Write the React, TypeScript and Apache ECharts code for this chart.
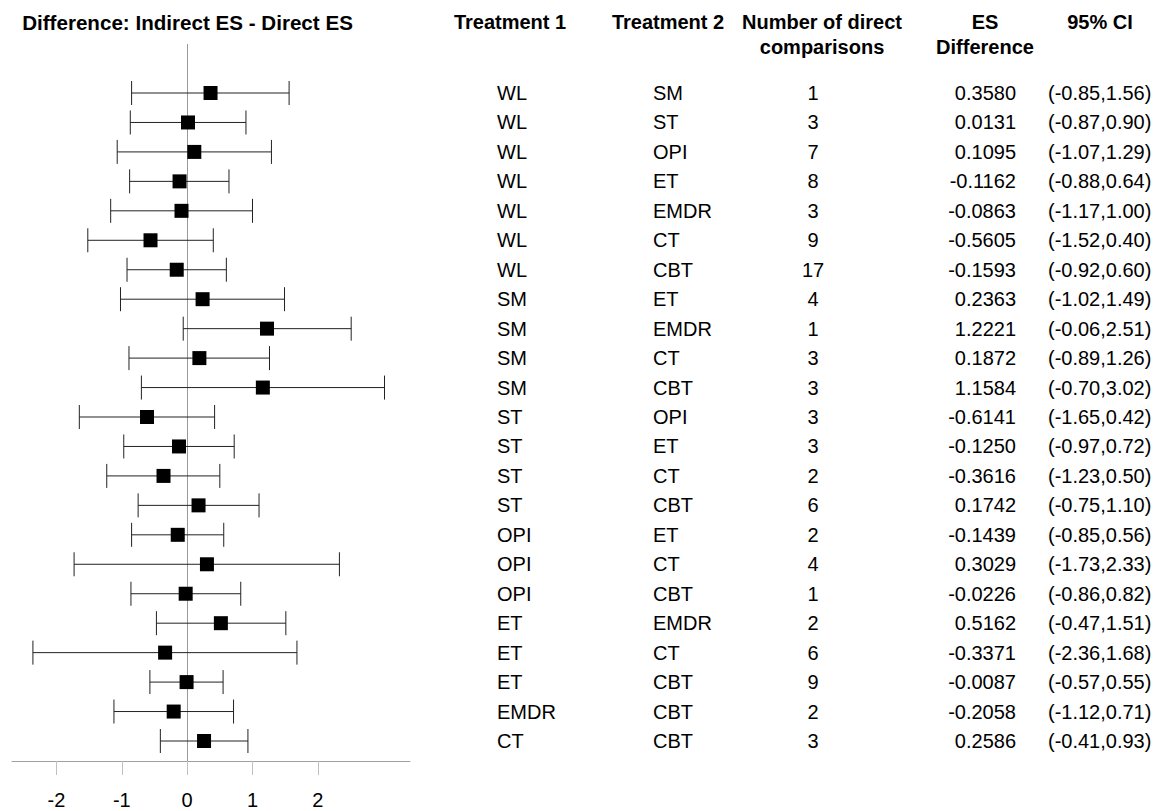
import React, { useEffect, useRef } from "react";
import * as echarts from "echarts";

const treatment1 = ["WL","WL","WL","WL","WL","WL","WL","SM","SM","SM","SM","ST","ST","ST","ST","OPI","OPI","OPI","ET","ET","ET","EMDR","CT"];
const treatment2 = ["SM","ST","OPI","ET","EMDR","CT","CBT","ET","EMDR","CT","CBT","OPI","ET","CT","CBT","ET","CT","CBT","EMDR","CT","CBT","CBT","CBT"];
const nDirect = [1,3,7,8,3,9,17,4,1,3,3,3,3,2,6,2,4,1,2,6,9,2,3];
const esDiff = [0.3580,0.0131,0.1095,-0.1162,-0.0863,-0.5605,-0.1593,0.2363,1.2221,0.1872,1.1584,-0.6141,-0.1250,-0.3616,0.1742,-0.1439,0.3029,-0.0226,0.5162,-0.3371,-0.0087,-0.2058,0.2586];
const ciLow = [-0.85,-0.87,-1.07,-0.88,-1.17,-1.52,-0.92,-1.02,-0.06,-0.89,-0.70,-1.65,-0.97,-1.23,-0.75,-0.85,-1.73,-0.86,-0.47,-2.36,-0.57,-1.12,-0.41];
const ciHigh = [1.56,0.90,1.29,0.64,1.00,0.40,0.60,1.49,2.51,1.26,3.02,0.42,0.72,0.50,1.10,0.56,2.33,0.82,1.51,1.68,0.55,0.71,0.93];
const tickValues = [-2, -1, 0, 1, 2];

const FONT = '"Liberation Sans", Arial, sans-serif';
const FS = 20;

export default function App() {
  const ref = useRef<HTMLDivElement>(null);
  useEffect(() => {
    if (!ref.current) return;
    const chart = echarts.init(ref.current, null, { renderer: "svg" });
    const rows = esDiff.map((es, i) => [i + 1, ciLow[i], es, ciHigh[i]]);

    const colT1 = 497, colT2 = 653, colN = 813, colES = 1016, colCI = 1048;

    const headerText = (text: string, x: number, y: number, size = FS) => ({
      type: "text",
      x, y,
      style: {
        text, fill: "#000", fontSize: size, fontWeight: "bold", fontFamily: FONT,
        textAlign: "center", textVerticalAlign: "middle", align: "center", verticalAlign: "middle",
      },
    });

    const option: any = {
      animation: false,
      backgroundColor: "#fff",
      grid: { left: 12, width: 398, top: 44, height: 717, containLabel: false },
      xAxis: {
        type: "value",
        min: -2.68,
        max: 3.41,
        axisLine: { show: true, onZero: false, lineStyle: { color: "#a0a0a0", width: 1 } },
        axisTick: { show: true, length: 14, customValues: tickValues, lineStyle: { color: "#c0c0c0", width: 1 } },
        axisLabel: { customValues: tickValues, color: "#000", fontSize: FS, fontFamily: FONT, margin: 29 },
        splitLine: { show: false },
      },
      yAxis: { type: "value", inverse: true, min: -0.664, max: 23.679, show: false },
      graphic: [
        headerText("Difference: Indirect ES - Direct ES", 187.5, 22, 20.6),
        headerText("Treatment 1", 510, 22),
        headerText("Treatment 2", 668, 22),
        headerText("Number of direct", 822, 22),
        headerText("comparisons", 822, 47),
        headerText("ES", 985, 22),
        headerText("Difference", 985, 47),
        headerText("95% CI", 1100, 22),
      ],
      series: [
        {
          type: "line",
          data: [],
          silent: true,
          z: 1,
          markLine: {
            silent: true,
            z: 1,
            symbol: "none",
            label: { show: false },
            lineStyle: { color: "#999", width: 1, type: "solid" },
            data: [{ xAxis: 0 }],
          },
        },
        {
          type: "custom",
          data: rows,
          encode: { x: [1, 2, 3], y: 0 },
          clip: false,
          z: 3,
          renderItem: (params: any, api: any) => {
            const y = api.value(0);
            const pLo = api.coord([api.value(1), y]);
            const pEs = api.coord([api.value(2), y]);
            const pHi = api.coord([api.value(3), y]);
            const st = { stroke: "#222", lineWidth: 1 };
            return {
              type: "group",
              children: [
                { type: "line", shape: { x1: pLo[0], y1: pLo[1], x2: pHi[0], y2: pHi[1] }, style: st },
                { type: "line", shape: { x1: pLo[0], y1: pLo[1] - 12, x2: pLo[0], y2: pLo[1] + 12 }, style: st },
                { type: "line", shape: { x1: pHi[0], y1: pHi[1] - 12, x2: pHi[0], y2: pHi[1] + 12 }, style: st },
                { type: "rect", shape: { x: pEs[0] - 7, y: pEs[1] - 7, width: 14, height: 14 }, style: { fill: "#000" } },
              ],
            };
          },
        },
        {
          type: "custom",
          data: rows,
          encode: { x: 2, y: 0 },
          clip: false,
          silent: true,
          renderItem: (params: any, api: any) => {
            const i = params.dataIndex;
            const y = api.coord([0, api.value(0)])[1];
            const t = (text: string, x: number, align: string) => ({
              type: "text",
              style: {
                text, x, y, fill: "#000", fontSize: FS, fontFamily: FONT,
                align, verticalAlign: "middle", textAlign: align, textVerticalAlign: "middle",
              },
            });
            return {
              type: "group",
              children: [
                t(treatment1[i], colT1, "left"),
                t(treatment2[i], colT2, "left"),
                t(String(nDirect[i]), colN, "center"),
                t(esDiff[i].toFixed(4), colES, "right"),
                t(`(${ciLow[i].toFixed(2)},${ciHigh[i].toFixed(2)})`, colCI, "left"),
              ],
            };
          },
        },
      ],
    };
    chart.setOption(option);
    return () => chart.dispose();
  }, []);
  return (
    <div
      ref={ref}
      style={{ position: "fixed", left: 0, top: 0, width: 1162, height: 811, background: "#fff" }}
    />
  );
}
